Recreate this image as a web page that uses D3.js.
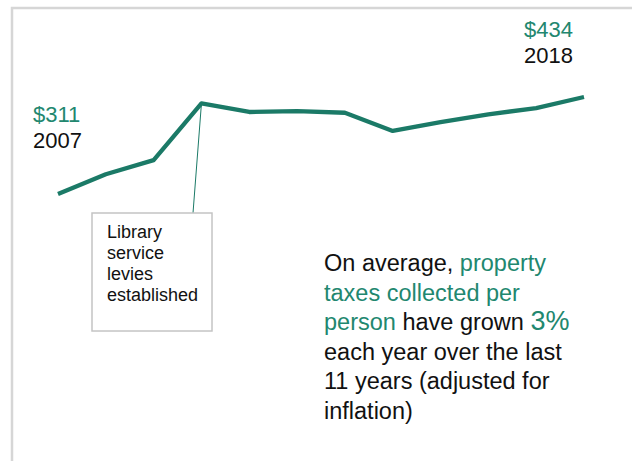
<!DOCTYPE html>
<html>
<head>
<meta charset="utf-8">
<script src="https://cdn.jsdelivr.net/npm/d3@7"></script>
<style>
  body { margin: 0; background: #fff; }
  svg { display: block; font-family: Arial, "Liberation Sans", sans-serif; }
</style>
</head>
<body>
<svg></svg>
<script>
var width = 632,
  height = 461;

// Property taxes collected per person, adjusted for inflation
var years = [2007, 2008, 2009, 2010, 2011, 2012, 2013, 2014, 2015, 2016, 2017, 2018];
var values = [311, 336, 354, 426, 415, 416, 414, 391, 402, 412, 420, 434];
var leviesYear = 2010;
var noteLines = ["Library", "service", "levies", "established"];
var summaryLines = [
  [["On average, ", "k"], ["property", "g"]],
  [["taxes collected per", "g"]],
  [["person", "g"], [" have grown ", "k"], ["3%", "big"]],
  [["each year over the last", "k"]],
  [["11 years (adjusted for", "k"]],
  [["inflation)", "k"]]
];

var lineColor = "#1b7a67",
  textGreen = "#22876f";

var svg = d3.select("svg")
  .attr("width", width)
  .attr("height", height);

// slide frame
svg.append("path")
  .attr("d", "M12," + height + "V8H" + width)
  .attr("fill", "none")
  .attr("stroke", "#d6d6d6")
  .attr("stroke-width", 2.5);

var x = d3.scaleLinear()
  .domain([years[0], years[years.length - 1]])
  .range([58, 584]);

var y = d3.scaleLinear()
  .domain([311, 434])
  .range([194, 97]);

var data = years.map(function(d, i) { return { year: d, value: values[i] }; });

// Leader line to the note box
var peak = data[years.indexOf(leviesYear)];
svg.append("line")
  .attr("x1", x(peak.year))
  .attr("y1", y(peak.value))
  .attr("x2", 193)
  .attr("y2", 213)
  .attr("stroke", lineColor)
  .attr("stroke-width", 1);

svg.append("path")
  .datum(data)
  .attr("fill", "none")
  .attr("stroke", lineColor)
  .attr("stroke-width", 4.3)
  .attr("stroke-linejoin", "round")
  .attr("d", d3.line()
    .x(function(d) { return x(d.year); })
    .y(function(d) { return y(d.value); }));

// End labels
var first = data[0],
  last = data[data.length - 1];

function endLabel(d, lx, ly) {
  var g = svg.append("g").attr("font-size", "22px");
  g.append("text")
    .attr("x", lx)
    .attr("y", ly)
    .attr("fill", textGreen)
    .text("$" + d.value);
  g.append("text")
    .attr("x", lx)
    .attr("y", ly + 26)
    .attr("fill", "#111")
    .text(d.year);
}
endLabel(first, x(first.year) - 25, y(first.value) - 72);
endLabel(last, x(last.year) - 60, y(last.value) - 60);

// Note box
svg.append("rect")
  .attr("x", 92)
  .attr("y", 213)
  .attr("width", 120)
  .attr("height", 118)
  .attr("fill", "#fff")
  .attr("stroke", "#c4c4c4")
  .attr("stroke-width", 1.5);

svg.append("g")
  .attr("font-size", "18px")
  .attr("fill", "#111")
  .selectAll("text")
  .data(noteLines)
  .enter().append("text")
  .attr("x", 107)
  .attr("y", function(d, i) { return 238 + i * 21; })
  .text(function(d) { return d; });

// Summary text
var summary = svg.append("g")
  .attr("font-size", "23.5px");

summary.selectAll("text")
  .data(summaryLines)
  .enter().append("text")
  .attr("x", 324)
  .attr("y", function(d, i) { return 271 + i * 29.5; })
  .attr("xml:space", "preserve")
  .selectAll("tspan")
  .data(function(d) { return d; })
  .enter().append("tspan")
  .attr("fill", function(d) { return d[1] === "k" ? "#111" : textGreen; })
  .attr("font-size", function(d) { return d[1] === "big" ? "27px" : null; })
  .text(function(d) { return d[0]; });
</script>
</body>
</html>
